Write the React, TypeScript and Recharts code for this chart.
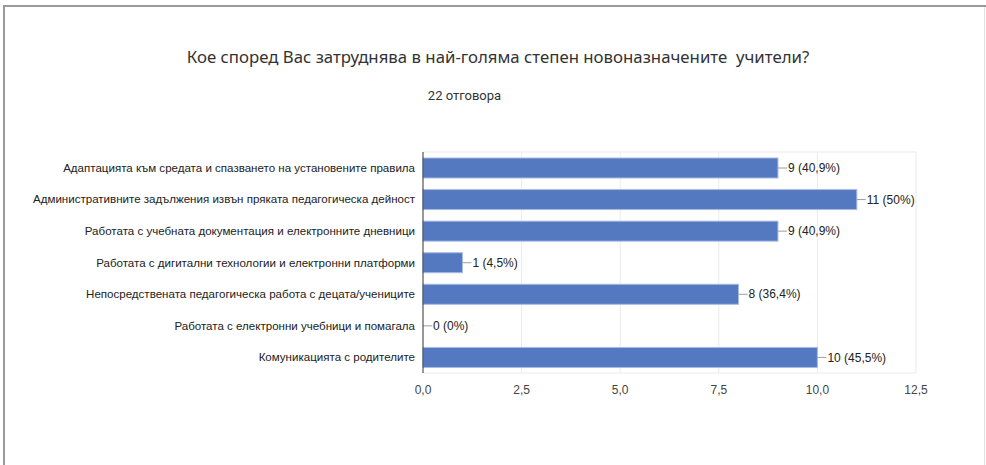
import React from "react";
import { BarChart, Bar, XAxis, YAxis, CartesianGrid } from "recharts";

const categories = [
  "Адаптацията към средата и спазването на установените правила",
  "Административните задължения извън пряката педагогическа дейност",
  "Работата с учебната документация и електронните дневници",
  "Работата с дигитални технологии и електронни платформи",
  "Непосредствената педагогическа работа с децата/учениците",
  "Работата с електронни учебници и помагала",
  "Комуникацията с родителите",
];
const counts = [9, 11, 9, 1, 8, 0, 10];
const percents = ["40,9", "50", "40,9", "4,5", "36,4", "0", "45,5"];
const xTicks = [0, 2.5, 5, 7.5, 10, 12.5];

const data = categories.map((name, i) => ({ name, value: counts[i], pct: percents[i] }));

const FONT = "'Liberation Sans', Arial, sans-serif";

const BarShape = (props: any) => {
  const { x, y, width, height, payload } = props;
  const w = Math.max(0, Number(width) || 0);
  const bx = Number(x);
  const by = Number(y);
  const h = Number(height);
  const endX = bx + w;
  const cy = by + h / 2;
  return (
    <g>
      {w > 0 && (
        <rect x={bx} y={by} width={w} height={h} fill="#5479c1" stroke="#a8bce3" strokeWidth={1} />
      )}
      <line x1={endX} y1={cy} x2={endX + 9} y2={cy} stroke="#9e9e9e" strokeWidth={1} />
      <text x={endX + 10} y={cy} dy="0.35em" fontSize={12} fontFamily={FONT} fill="#222">
        {`${payload.value} (${payload.pct}%)`}
      </text>
    </g>
  );
};

const YTick = (props: any) => {
  const { x, y, payload } = props;
  return (
    <text x={x} y={y} dy="0.35em" textAnchor="end" fontSize={11.55} fontFamily={FONT} fill="#222">
      {payload.value}
    </text>
  );
};

export default function App() {
  return (
    <div
      style={{
        position: "absolute",
        left: 0,
        top: 0,
        width: 986,
        height: 465,
        background: "#fff",
        overflow: "hidden",
      }}
    >
      <div style={{ position: "absolute", left: 3, top: 5, width: 983, height: 2, background: "#9a9a9a" }} />
      <div style={{ position: "absolute", left: 3, top: 5, width: 2, height: 460, background: "#9a9a9a" }} />
      <div style={{ position: "absolute", left: 984, top: 7, width: 1, height: 458, background: "#e0e0e0" }} />
      <div
        lang="bg"
        style={{
          position: "absolute",
          left: 0,
          width: 996,
          top: 45,
          textAlign: "center",
          fontFamily: "'Noto Sans', sans-serif",
          fontSize: 16.8,
          color: "#333",
          whiteSpace: "pre",
        }}
      >
        {"Кое според Вас затруднява в най-голяма степен новоназначените  учители?"}
      </div>
      <div
        lang="bg"
        style={{
          position: "absolute",
          left: 0,
          width: 929,
          top: 88,
          textAlign: "center",
          fontFamily: "Roboto, sans-serif",
          fontSize: 13,
          color: "#333",
        }}
      >
        22 отговора
      </div>
      <div style={{ position: "absolute", left: 0, top: 0 }}>
        <BarChart
          width={986}
          height={465}
          data={data}
          layout="vertical"
          margin={{ top: 152, right: 70, bottom: 62, left: 0 }}
          barSize={20}
        >
          <CartesianGrid
            stroke="#ebebeb"
            horizontalPoints={[152, 373]}
            verticalPoints={[521.6, 620.2, 718.8, 817.4, 916]}
          />
          <XAxis
            type="number"
            domain={[0, 12.5]}
            ticks={xTicks}
            height={30}
            axisLine={false}
            tickLine={false}
            tickMargin={6}
            tickFormatter={(v: number) => v.toFixed(1).replace(".", ",")}
            tick={{ fontSize: 12, fill: "#444", fontFamily: FONT }}
          />
          <YAxis
            type="category"
            dataKey="name"
            width={423}
            axisLine={{ stroke: "#333" }}
            tickLine={false}
            interval={0}
            tick={<YTick />}
          />
          <Bar dataKey="value" shape={BarShape} isAnimationActive={false} />
        </BarChart>
      </div>
    </div>
  );
}
